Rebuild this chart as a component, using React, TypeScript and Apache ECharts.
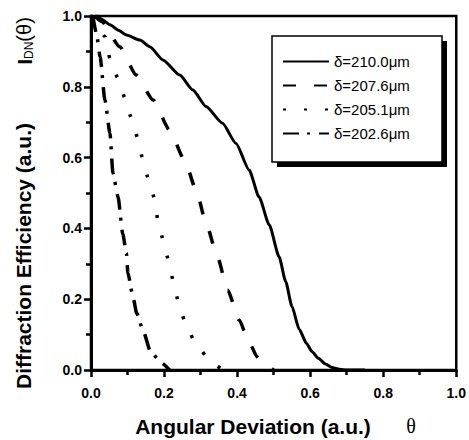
import React, { useEffect, useRef } from "react";
import * as echarts from "echarts";

const seriesNames = ["δ=210.0μm", "δ=207.6μm", "δ=205.1μm", "δ=202.6μm"];

const theta210 = [0, 0.015, 0.03, 0.052, 0.075, 0.097, 0.134, 0.161, 0.197, 0.243, 0.279, 0.315, 0.36, 0.397, 0.433, 0.46, 0.488, 0.515, 0.533, 0.55, 0.57, 0.59, 0.605, 0.622, 0.642, 0.66, 0.68, 0.7, 0.75];
const eff210 = [0.99, 1.0, 0.99, 0.975, 0.96, 0.946, 0.932, 0.913, 0.876, 0.833, 0.791, 0.744, 0.697, 0.64, 0.565, 0.489, 0.41, 0.32, 0.25, 0.18, 0.115, 0.075, 0.052, 0.033, 0.017, 0.007, 0.002, 0, 0];

const theta207 = [0.01, 0.03, 0.079, 0.124, 0.17, 0.215, 0.256, 0.288, 0.315, 0.346, 0.374, 0.406, 0.43, 0.455, 0.474, 0.5];
const eff207 = [1.0, 0.984, 0.913, 0.833, 0.763, 0.678, 0.593, 0.508, 0.415, 0.32, 0.226, 0.141, 0.085, 0.037, 0.015, 0];

const theta205 = [0.01, 0.038, 0.052, 0.074, 0.093, 0.111, 0.128, 0.142, 0.158, 0.174, 0.183, 0.199, 0.213, 0.226, 0.24, 0.26, 0.288, 0.331, 0.36];
const eff205 = [1.0, 0.942, 0.88, 0.824, 0.768, 0.711, 0.655, 0.593, 0.537, 0.485, 0.422, 0.362, 0.306, 0.247, 0.189, 0.127, 0.071, 0.02, 0];

const theta202 = [0.005, 0.015, 0.025, 0.038, 0.052, 0.06, 0.074, 0.087, 0.097, 0.101, 0.115, 0.125, 0.142, 0.163, 0.193, 0.215];
const eff202 = [1.0, 0.95, 0.884, 0.763, 0.669, 0.556, 0.489, 0.384, 0.33, 0.274, 0.206, 0.161, 0.113, 0.052, 0.02, 0];

const xTitle = "Angular Deviation (a.u.)";
const yTitle = "Diffraction Efficiency (a.u.)";

const zip = (xs: number[], ys: number[]) => xs.map((x, i) => [x, ys[i]]);

const FONT = "'Liberation Sans', Arial, sans-serif";

export default function App() {
  const ref = useRef<HTMLDivElement>(null);
  useEffect(() => {
    if (!ref.current) return;
    const chart = echarts.init(ref.current, null, { renderer: "svg" });
    const dashes: any[] = ["solid", [13, 18], [3, 18], [16, 8, 3, 9]];
    const data = [zip(theta210, eff210), zip(theta207, eff207), zip(theta205, eff205), zip(theta202, eff202)];
    const tick = { show: true, length: 7, lineStyle: { color: "#000", width: 2.5 } };
    const minor = { show: true, splitNumber: 2, length: 5, lineStyle: { color: "#000", width: 2.5 } };
    chart.setOption({
      animation: false,
      backgroundColor: "#fff",
      grid: { left: 91, right: 11, top: 16, bottom: 70, show: true, borderColor: "#000", borderWidth: 2.5 },
      xAxis: {
        type: "value", min: 0, max: 1, interval: 0.2,
        axisLine: { lineStyle: { color: "#000", width: 3 } },
        axisTick: tick,
        minorTick: minor,
        splitLine: { show: false },
        minorSplitLine: { show: false },
        axisLabel: { formatter: (v: number) => v.toFixed(1), color: "#000", fontWeight: "bold", fontSize: 14, fontFamily: FONT, margin: 16 },
      },
      yAxis: {
        type: "value", min: 0, max: 1, interval: 0.2,
        axisLine: { lineStyle: { color: "#000", width: 3 } },
        axisTick: tick,
        minorTick: minor,
        splitLine: { show: false },
        minorSplitLine: { show: false },
        axisLabel: { formatter: (v: number) => v.toFixed(1), color: "#000", fontWeight: "bold", fontSize: 14, fontFamily: FONT, margin: 9 },
      },
      legend: {
        orient: "vertical", left: 282, top: 54, padding: 0, itemGap: 9, itemWidth: 46, itemHeight: 15, z: 10,
        textStyle: { fontSize: 15, color: "#000", fontFamily: FONT },
        itemStyle: { opacity: 0 },
        data: seriesNames,
      },
      graphic: [
        { type: "rect", z: 5, shape: { x: 277, y: 41, width: 170, height: 126 }, style: { fill: "#000" } },
        { type: "rect", z: 6, shape: { x: 272, y: 36, width: 170, height: 126 }, style: { fill: "#fff", stroke: "#000", lineWidth: 1.5 } },
        { type: "text", x: 253, y: 426, style: { text: xTitle, fontSize: 21, fontWeight: "bold", fontFamily: FONT, fill: "#000", align: "center", verticalAlign: "middle" } },
        { type: "text", x: 411, y: 426, style: { text: "θ", fontSize: 20, fontFamily: "'Liberation Serif', serif", fill: "#000", align: "center", verticalAlign: "middle" } },
        { type: "text", x: 23, y: 256, rotation: Math.PI / 2, style: { text: yTitle, fontSize: 21, fontWeight: "bold", fontFamily: FONT, fill: "#000", align: "center", verticalAlign: "middle" } },
        {
          type: "text", x: 24, y: 41, rotation: Math.PI / 2,
          style: {
            text: "{i|I}{s|DN}{p|(θ)}",
            align: "center", verticalAlign: "middle",
            rich: {
              i: { fontSize: 21, fontWeight: "bold", fontFamily: FONT, fill: "#000" },
              s: { fontSize: 12, fontFamily: FONT, fill: "#000", padding: [10, 0, 0, 0] },
              p: { fontSize: 20, fontFamily: FONT, fill: "#000" },
            },
          },
        },
      ],
      series: seriesNames.map((name, i) => ({
        name, type: "line", data: data[i], showSymbol: false, symbol: "none",
        smooth: 0.2, smoothMonotone: "x",
        lineStyle: { color: "#000", width: i === 0 ? 3 : 3.5, type: dashes[i], cap: "butt" },
        itemStyle: { color: "#000" },
        z: 3,
      })),
    });
    return () => chart.dispose();
  }, []);
  return <div ref={ref} style={{ position: "fixed", left: 0, top: 0, width: 469, height: 440 }} />;
}
